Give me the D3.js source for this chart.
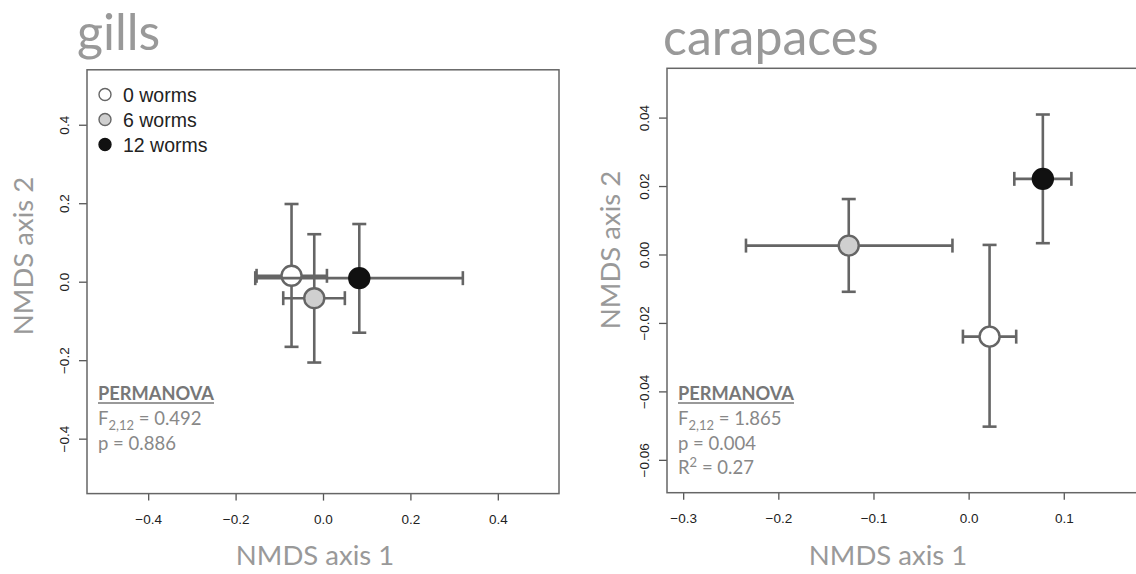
<!DOCTYPE html>
<html>
<head>
<meta charset="utf-8">
<script src="https://cdn.jsdelivr.net/npm/d3@7"></script>
<style>
  body { margin: 0; background: #fff; }
  svg { display: block; }
</style>
</head>
<body>
<svg id="chart" width="1136" height="574"></svg>
<script>
// groups + colours
const groups = ["0 worms", "6 worms", "12 worms"];
const fills = ["#ffffff", "#cfcfcf", "#111111"];

// gills: centroid and error bar ends
const gillsX = [-0.072, -0.020, 0.083];
const gillsY = [0.015, -0.042, 0.009];
const gillsXLo = [-0.152, -0.091, -0.155];
const gillsXHi = [0.009, 0.050, 0.320];
const gillsYLo = [-0.166, -0.206, -0.130];
const gillsYHi = [0.198, 0.121, 0.147];

// carapaces
const carapX = [0.022, -0.126, 0.078];
const carapY = [-0.0240, 0.0026, 0.0221];
const carapXLo = [-0.006, -0.234, 0.048];
const carapXHi = [0.050, -0.017, 0.108];
const carapYLo = [-0.0503, -0.0109, 0.0033];
const carapYHi = [0.0028, 0.0162, 0.0409];

// tick labels
const gillsTicks = [-0.4, -0.2, 0.0, 0.2, 0.4];
const carapXTicks = [-0.3, -0.2, -0.1, 0.0, 0.1];
const carapYTicks = [-0.06, -0.04, -0.02, 0.00, 0.02, 0.04];

// permanova results
const gillsStats = [["F", "2,12", " = 0.492"], ["p = 0.886"]];
const carapStats = [["F", "2,12", " = 1.865"], ["p = 0.004"], ["R", "2", " = 0.27"]];

const svg = d3.select("#chart");
const titleFont = "Lato, 'Open Sans', sans-serif";
const tickFont = "'Liberation Sans', Arial, sans-serif";

function drawPanel(opt) {
    const g = svg.append("g");
    const x = d3.scaleLinear().domain(opt.xDomain).range(opt.xRange);
    const y = d3.scaleLinear().domain(opt.yDomain).range(opt.yRange);

    // axes
    const xAxis = g.append("g")
        .attr("transform", `translate(0,${opt.yRange[0]})`)
        .call(d3.axisBottom(x).tickValues(opt.xTicks).tickFormat(d3.format(opt.xFmt))
            .tickSize(7).tickPadding(14));
    const yAxis = g.append("g")
        .attr("transform", `translate(${opt.xRange[0]},0)`)
        .call(d3.axisLeft(y).tickValues(opt.yTicks).tickFormat(d3.format(opt.yFmt))
            .tickSize(8));

    [xAxis, yAxis].forEach(a => {
        a.select(".domain").remove();
        a.selectAll("line").attr("stroke", "#555").attr("stroke-width", 1.3);
        a.selectAll("text").attr("fill", "#222").style("font-family", tickFont).style("font-size", "13.5px");
    });
    yAxis.selectAll("text")
        .attr("transform", "rotate(-90)")
        .attr("x", 0).attr("y", -18).attr("dy", 0)
        .attr("text-anchor", "middle");

    // box
    g.append("rect")
        .attr("x", opt.xRange[0]).attr("y", opt.yRange[1])
        .attr("width", opt.xRange[1] - opt.xRange[0])
        .attr("height", opt.yRange[0] - opt.yRange[1])
        .attr("fill", "none").attr("stroke", "#666").attr("stroke-width", 1.5);

    // error bars + points, group by group
    const cap = 7;
    groups.forEach((name, i) => {
        const cx = x(opt.px[i]), cy = y(opt.py[i]);
        const bars = g.append("g").attr("stroke", "#656565").attr("stroke-width", 2.6);
        const x0 = x(opt.xLo[i]), x1 = x(opt.xHi[i]);
        const y0 = y(opt.yLo[i]), y1 = y(opt.yHi[i]);
        bars.append("line").attr("x1", x0).attr("x2", x1).attr("y1", cy).attr("y2", cy);
        bars.append("line").attr("x1", x0).attr("x2", x0).attr("y1", cy - cap).attr("y2", cy + cap);
        bars.append("line").attr("x1", x1).attr("x2", x1).attr("y1", cy - cap).attr("y2", cy + cap);
        bars.append("line").attr("x1", cx).attr("x2", cx).attr("y1", y0).attr("y2", y1);
        bars.append("line").attr("y1", y0).attr("y2", y0).attr("x1", cx - cap).attr("x2", cx + cap);
        bars.append("line").attr("y1", y1).attr("y2", y1).attr("x1", cx - cap).attr("x2", cx + cap);

        g.append("circle")
            .attr("cx", cx).attr("cy", cy).attr("r", 10)
            .attr("fill", fills[i])
            .attr("stroke", i === 2 ? "#111" : "#656565")
            .attr("stroke-width", 2.4);
    });

    // title
    svg.append("text")
        .attr("x", opt.titleX).attr("y", opt.titleY)
        .attr("fill", "#999").style("font-family", titleFont).style("font-size", "50px")
        .text(opt.title);

    // axis titles
    svg.append("text")
        .attr("x", (opt.xLabelX)).attr("y", 565)
        .attr("text-anchor", "middle")
        .attr("fill", "#999").style("font-family", titleFont).style("font-size", "27.5px")
        .text("NMDS axis 1");
    svg.append("text")
        .attr("transform", `translate(${opt.yLabelX},${opt.yLabelY}) rotate(-90)`)
        .attr("text-anchor", "middle")
        .attr("fill", "#999").style("font-family", titleFont).style("font-size", "27.5px")
        .text("NMDS axis 2");

    // PERMANOVA block
    const sx = opt.xRange[0] + 11;
    const hw = 116;
    svg.append("text")
        .attr("x", sx).attr("y", 400)
        .attr("fill", "#777").style("font-family", titleFont)
        .style("font-size", "18.5px").style("font-weight", "bold")
        .attr("textLength", hw).attr("lengthAdjust", "spacingAndGlyphs")
        .text("PERMANOVA");
    svg.append("line")
        .attr("x1", sx).attr("x2", sx + hw)
        .attr("y1", 403).attr("y2", 403)
        .attr("stroke", "#777").attr("stroke-width", 1.5);

    opt.stats.forEach((parts, k) => {
        const t = svg.append("text")
            .attr("x", sx).attr("y", 425 + k * 24.5)
            .attr("fill", "#888").style("font-family", titleFont).style("font-size", "18.5px");
        t.append("tspan").text(parts[0]);
        if (parts.length > 1) {
            const isSup = parts[1] === "2";
            t.append("tspan").attr("dy", isSup ? -7 : 5).style("font-size", "13px").text(parts[1]);
            t.append("tspan").attr("dy", isSup ? 7 : -5).text(parts[2]);
        }
    });
}

// left: gills
drawPanel({
    title: "gills", titleX: 77, titleY: 50,
    xDomain: [-0.54, 0.54], xRange: [87, 559],
    yDomain: [-0.54, 0.54], yRange: [493.6, 69.8],
    xTicks: gillsTicks, yTicks: gillsTicks, xFmt: ".1f", yFmt: ".1f",
    px: gillsX, py: gillsY, xLo: gillsXLo, xHi: gillsXHi, yLo: gillsYLo, yHi: gillsYHi,
    xLabelX: 315, yLabelX: 33, yLabelY: 256,
    stats: gillsStats
});

// right: carapaces
drawPanel({
    title: "carapaces", titleX: 663, titleY: 55,
    xDomain: [-0.317, 0.178], xRange: [667, 1138],
    yDomain: [-0.0696, 0.0544], yRange: [492.7, 68.3],
    xTicks: carapXTicks, yTicks: carapYTicks, xFmt: ".1f", yFmt: ".2f",
    px: carapX, py: carapY, xLo: carapXLo, xHi: carapXHi, yLo: carapYLo, yHi: carapYHi,
    xLabelX: 888, yLabelX: 620, yLabelY: 250,
    stats: carapStats
});

// legend (gills panel)
const legend = svg.append("g");
groups.forEach((name, i) => {
    const ly = 94.5 + i * 25;
    legend.append("circle")
        .attr("cx", 105).attr("cy", ly).attr("r", 6)
        .attr("fill", fills[i])
        .attr("stroke", i === 2 ? "#111" : "#666").attr("stroke-width", 1.4);
    legend.append("text")
        .attr("x", 123).attr("y", ly + 7.5)
        .attr("fill", "#222").style("font-family", tickFont).style("font-size", "19.5px")
        .text(name);
});
</script>
</body>
</html>
